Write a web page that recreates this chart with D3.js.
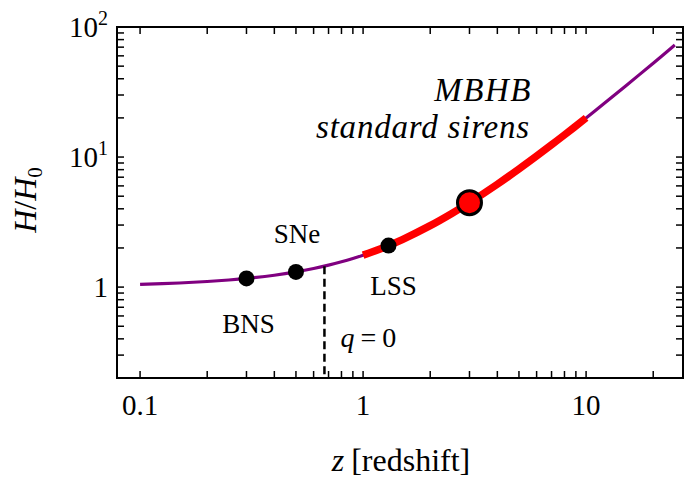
<!DOCTYPE html>
<html><head><meta charset="utf-8">
<script src="https://cdn.jsdelivr.net/npm/d3@7"></script>
<style>html,body{margin:0;padding:0;background:#fff;}svg{display:block;}</style>
</head><body>
<script>
// Expansion history H(z)/H0
const zValues = [0.1, 0.15, 0.2, 0.25, 0.3, 0.4, 0.5, 0.6, 0.7, 0.8, 0.9, 1.0, 1.2, 1.5, 2, 2.5, 3, 4, 5, 6, 7, 8, 10, 12, 15, 20, 25];
const hValues = [1.0485, 1.0753, 1.1038, 1.134, 1.1658, 1.2342, 1.3086, 1.3888, 1.4744, 1.5651, 1.6606, 1.7607, 1.9734, 2.3211, 2.9665, 3.6827, 4.4609, 6.1806, 8.0932, 10.178, 12.422, 14.812, 20.0, 25.687, 35.064, 52.716, 72.62];
// MBHB standard-siren redshift range (red band)
const mbhbRange = [1, 10];
// Probe markers
const probeNames = ["BNS", "SNe", "LSS"];
const probeZ = [0.3, 0.5, 1.3];
const probeH = [1.166, 1.309, 2.086];
// MBHB marker
const mbhbPointZ = 3;
const mbhbPointH = 4.461;
// Zero-deceleration redshift
const qZeroZ = 0.671;
const qZeroH = 1.449;
// Axis ticks
const xTickValues = [0.1, 1, 10];
const xTickLabels = ["0.1", "1", "10"];
const yTickValues = [1, 10, 100];
const yTickBase = ["1", "10", "10"];
const yTickSup = ["", "1", "2"];
const xDomain = [0.0788, 27.2];
const yDomain = [0.2, 100];

const W = 686, H = 477;
const m = {left: 117, right: 3, top: 27, bottom: 99};
const svg = d3.select("body").append("svg").attr("width", W).attr("height", H);
const x = d3.scaleLog().domain(xDomain).range([m.left, W - m.right]);
const y = d3.scaleLog().domain(yDomain).range([H - m.bottom, m.top]);
const FONT = "'Liberation Serif', Tinos, 'Times New Roman', 'DejaVu Serif', serif";

const curve = zValues.map((z, i) => ({z, h: hValues[i]}));
const line = d3.line().x(d => x(d.z)).y(d => y(d.h)).curve(d3.curveCatmullRom);

const g = svg.append("g");

// purple curve
g.append("path").datum(curve).attr("d", line)
  .attr("fill", "none").attr("stroke", "#800080").attr("stroke-width", 3.2);
// red MBHB band
g.append("path").datum(curve.filter(d => d.z >= mbhbRange[0] && d.z <= mbhbRange[1])).attr("d", line)
  .attr("fill", "none").attr("stroke", "#ff0000").attr("stroke-width", 7.5).attr("stroke-linecap", "butt");

// q=0 dashed line
g.append("line")
  .attr("x1", x(qZeroZ)).attr("x2", x(qZeroZ))
  .attr("y1", y(qZeroH)).attr("y2", y(yDomain[0]))
  .attr("stroke", "#000").attr("stroke-width", 2.5).attr("stroke-dasharray", "8,4.5");

// probe dots
probeZ.forEach((z, i) => {
  g.append("circle").attr("cx", x(z)).attr("cy", y(probeH[i])).attr("r", 8).attr("fill", "#000");
});
// MBHB dot
g.append("circle").attr("cx", x(mbhbPointZ)).attr("cy", y(mbhbPointH)).attr("r", 12)
  .attr("fill", "#ff0000").attr("stroke", "#000").attr("stroke-width", 3);

// Axes: ticks inward on all sides
const ax = svg.append("g");
const xMinor = [];
[0.1, 1, 10].forEach(d => { for (let k = 1; k <= 9; k++) { const v = d * k; if (v >= 0.1 && v <= 20) xMinor.push(v); } });
const yMinor = [];
[0.1, 1, 10].forEach(d => { for (let k = 1; k <= 9; k++) { const v = d * k; if (v >= yDomain[0] && v <= yDomain[1]) yMinor.push(v); } });
yMinor.push(100);
const tickLen = 7;
const y0 = H - m.bottom, y1 = m.top, x0 = m.left, x1 = W - m.right;
xMinor.forEach(v => {
  const px = x(v);
  ax.append("line").attr("x1", px).attr("x2", px).attr("y1", y0).attr("y2", y0 - tickLen).attr("stroke", "#000").attr("stroke-width", 1.5);
  ax.append("line").attr("x1", px).attr("x2", px).attr("y1", y1).attr("y2", y1 + tickLen).attr("stroke", "#000").attr("stroke-width", 1.5);
});
yMinor.forEach(v => {
  const py = y(v);
  ax.append("line").attr("x1", x0).attr("x2", x0 + tickLen).attr("y1", py).attr("y2", py).attr("stroke", "#000").attr("stroke-width", 1.5);
  ax.append("line").attr("x1", x1).attr("x2", x1 - tickLen).attr("y1", py).attr("y2", py).attr("stroke", "#000").attr("stroke-width", 1.5);
});
ax.append("rect").attr("x", x0).attr("y", y1).attr("width", x1 - x0).attr("height", y0 - y1)
  .attr("fill", "none").attr("stroke", "#000").attr("stroke-width", 2);

// x tick labels
xTickValues.forEach((v, i) => {
  ax.append("text").attr("x", x(v)).attr("y", y0 + 37).attr("text-anchor", "middle")
    .attr("font-family", FONT).attr("font-size", 29).text(xTickLabels[i]);
});
// y tick labels
yTickValues.forEach((v, i) => {
  const t = ax.append("text").attr("x", x0 - 9).attr("y", y(v) + 10).attr("text-anchor", "end")
    .attr("font-family", FONT).attr("font-size", 29);
  t.append("tspan").text(yTickBase[i]);
  if (yTickSup[i]) t.append("tspan").attr("font-size", 20).attr("dy", -12).text(yTickSup[i]);
});

// axis titles
const xt = svg.append("text").attr("x", 401).attr("y", 471).attr("text-anchor", "middle")
  .attr("font-family", FONT).attr("font-size", 32);
xt.append("tspan").attr("font-style", "italic").text("z");
xt.append("tspan").attr("dx", 7).text("[redshift]");

const yt = svg.append("text").attr("transform", "translate(36,200) rotate(-90)").attr("text-anchor", "middle")
  .attr("font-family", FONT).attr("font-size", 32).attr("font-style", "italic");
yt.append("tspan").text("H");
yt.append("tspan").attr("font-style", "normal").text("/");
yt.append("tspan").text("H");
yt.append("tspan").attr("font-size", 21).attr("font-style", "normal").attr("dy", 6).text("0");

// annotations
const labelOffsets = {BNS: [2, 55], SNe: [1, -29], LSS: [5, 49]};
probeNames.forEach((n, i) => {
  svg.append("text").attr("x", x(probeZ[i]) + labelOffsets[n][0]).attr("y", y(probeH[i]) + labelOffsets[n][1])
    .attr("text-anchor", "middle").attr("font-family", FONT).attr("font-size", 27).text(n);
});
const qt = svg.append("text").attr("x", x(qZeroZ) + 16).attr("y", 347)
  .attr("font-family", FONT).attr("font-size", 28);
qt.append("tspan").attr("font-style", "italic").text("q");
qt.append("tspan").attr("dx", 6).text("=");
qt.append("tspan").attr("dx", 6).text("0");

svg.append("text").attr("x", 532).attr("y", 101).attr("text-anchor", "end")
  .attr("font-family", FONT).attr("font-size", 33).attr("font-style", "italic")
  .attr("letter-spacing", 1.5).text("MBHB");
svg.append("text").attr("x", 530).attr("y", 138).attr("text-anchor", "end")
  .attr("font-family", FONT).attr("font-size", 33).attr("font-style", "italic")
  .attr("letter-spacing", 0.8).text("standard sirens");
</script>
</body></html>
